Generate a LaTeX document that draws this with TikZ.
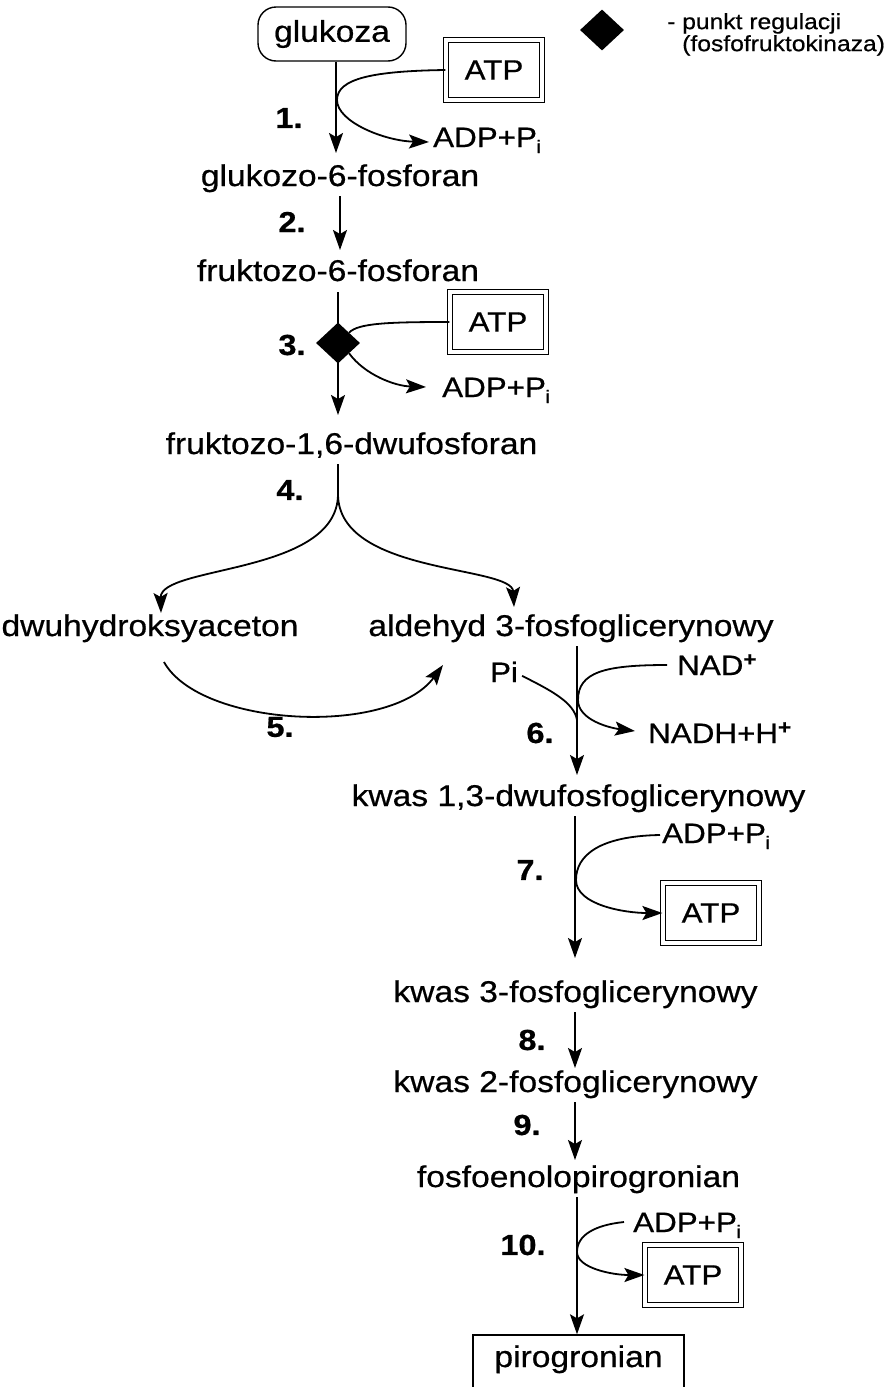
\documentclass[tikz,border=0pt]{standalone}
\usepackage{fontspec}
\setmainfont{Liberation Sans}[FakeStretch=1.12, FakeBold=0.6]
\usetikzlibrary{arrows.meta,shapes.geometric,calc}
\newcommand\adpPi{ADP+P\kern-0.5pt\raisebox{-6pt}{\fontsize{18}{18}\selectfont i}}
\newcommand\chg[1]{\raisebox{9pt}{\fontsize{20}{20}\selectfont\bfseries #1}}
\tikzset{
  tip/.tip={Stealth[length=20pt,width=14pt,inset=4pt]},
  lbl/.style={font=\fontsize{30}{36}\selectfont, inner sep=0pt, anchor=base},
  sm/.style={font=\fontsize{28}{34}\selectfont, inner sep=0pt},
  num/.style={font=\fontsize{29}{34}\selectfont\bfseries, inner sep=0pt},
  atpbox/.style={sm, draw, line width=1.2pt, double, double distance=4pt,
                 minimum width=96pt, minimum height=60pt},
  reg/.style={diamond, fill=black, inner sep=0pt, minimum width=44pt, minimum height=41pt},
  flow/.style={line width=1.8pt, -tip},
  bare/.style={line width=1.8pt}}
\begin{document}
\begin{tikzpicture}[x=1pt,y=-1pt]
\useasboundingbox (0,0) rectangle (892,1387);

% metabolites
\node[lbl, draw, rounded corners=18pt, line width=1.4pt, minimum width=148pt,
      minimum height=54pt, anchor=center] (glu) at (332,34) {glukoza};
\node[lbl] (g6p) at (340,186) {glukozo-6-fosforan};
\node[lbl] (f6p) at (338,281) {fruktozo-6-fosforan};
\node[lbl] (f16) at (351.5,454) {fruktozo-1,6-dwufosforan};
\node[lbl] (dhap) at (150,636) {dwuhydroksyaceton};
\node[lbl] (gap) at (571,636) {aldehyd 3-fosfoglicerynowy};
\node[lbl] (bpg) at (578.5,806) {kwas 1,3-dwufosfoglicerynowy};
\node[lbl] (p3g) at (575.5,1002) {kwas 3-fosfoglicerynowy};
\node[lbl] (p2g) at (575.5,1092) {kwas 2-fosfoglicerynowy};
\node[lbl] (pep) at (578.5,1187) {fosfoenolopirogronian};
\node[lbl, draw, line width=1.4pt, minimum width=211pt, text height=32pt,
      text depth=50pt] (pyr) at (578.5,1367) {pirogronian};

% step numbers
\node[num] (n1) at (289,118) {1.};
\node[num] (n2) at (292,222) {2.};
\node[num] (n3) at (292,345) {3.};
\node[num] (n4) at (290,490) {4.};
\node[num] (n5) at (280,727) {5.};
\node[num] (n6) at (540,733) {6.};
\node[num] (n7) at (530,870) {7.};
\node[num] (n8) at (532,1040) {8.};
\node[num] (n9) at (527,1125) {9.};
\node[num] (n10) at (523,1245) {10.};

% cofactors
\node[atpbox] (atp1) at (494,70) {ATP};
\node[sm, anchor=base west] (adp1) at (433,147) {\adpPi};
\node[atpbox] (atp2) at (498,322) {ATP};
\node[sm, anchor=base west] (adp2) at (442,397) {\adpPi};
\node[sm, anchor=base] (pi) at (504,682) {Pi};
\node[sm, anchor=base west] (nad) at (677,675) {NAD\chg{+}};
\node[sm, anchor=base west] (nadh) at (648,743) {NADH+H\chg{+}};
\node[sm, anchor=base west] (adp7) at (662,843) {\adpPi};
\node[atpbox] (atp3) at (711,913) {ATP};
\node[sm, anchor=base west] (adp10) at (633,1232) {\adpPi};
\node[atpbox] (atp4) at (693,1275) {ATP};

% legend
\node[reg] (key) at (602,30) {};
\node[font=\fontsize{22}{22}\selectfont, align=left, anchor=north west, inner sep=0pt]
  (keytxt) at (667,13) {- punkt regulacji\\\hphantom{- }(fosfofruktokinaza)};

% step 1
\draw[flow] ($(glu.south)+(4,0)$) -- ($(g6p.base)+(-4,-33)$);
\draw[flow] (atp1.west) .. controls (375,71) and (337,78) .. (337,100)
  .. controls (337,122) and (385,141) .. ($(adp1.base west)+(-4,-5)$);
% step 2
\draw[flow] ($(g6p.base)+(0,10)$) -- ($(f6p.base)+(2,-31)$);
% step 3
\draw[flow] ($(f6p.base)+(0,11)$) -- ($(f16.base)+(-13.5,-39)$);
\node[reg] (dia) at (338,343) {};
\draw[bare] (atp2.west) .. controls (390,322) and (358,323) .. (dia.north east);
\draw[flow] (dia.south east) .. controls (365,375) and (395,386) .. ($(adp2.base west)+(-16,-10)$);
% step 4
\coordinate (fork) at (338,494);
\draw[bare] ($(f16.base)+(-13.5,10)$) -- (fork);
\draw[flow] (fork) .. controls (338,575) and (160,565) .. ($(dhap.base)+(11,-23)$);
\draw[flow] (fork) .. controls (338,575) and (512,565) .. ($(gap.base)+(-57,-29)$);
% step 5
\draw[flow] ($(dhap.base)+(14,26)$) .. controls (200,727) and (390,737) .. ($(gap.base)+(-128,29)$);
% step 6
\draw[flow] ($(gap.base)+(6,10)$) -- ($(bpg.base)+(-1.5,-31)$);
\draw[bare] ($(pi.east)+(4,4)$) .. controls (550,690) and (574,702) .. (577,720);
\draw[flow] ($(nad.base west)+(-10,-10)$) .. controls (605,665) and (578,672) .. (578,700)
  .. controls (578,720) and (610,728) .. ($(nadh.base west)+(-13,-12)$);
% step 7
\draw[flow] ($(bpg.base)+(-3.5,10)$) -- ($(p3g.base)+(-0.5,-44)$);
\draw[flow] ($(adp7.base west)+(-2,-8)$) .. controls (600,836) and (576,855) .. (576,880)
  .. controls (576,905) and (625,913) .. (atp3.west);
% steps 8 and 9
\draw[flow] ($(p3g.base)+(-0.5,10)$) -- ($(p2g.base)+(-0.5,-24)$);
\draw[flow] ($(p2g.base)+(-0.5,10)$) -- ($(pep.base)+(-3.5,-27)$);
% step 10
\draw[flow] ($(pep.base)+(-1.5,10)$) -- ($(pyr.north)+(-1.5,0)$);
\draw[flow] ($(adp10.base west)+(-9,-10)$) .. controls (595,1225) and (577,1235) .. (577,1252)
  .. controls (577,1268) and (612,1275) .. (atp4.west);
\end{tikzpicture}
\end{document}
